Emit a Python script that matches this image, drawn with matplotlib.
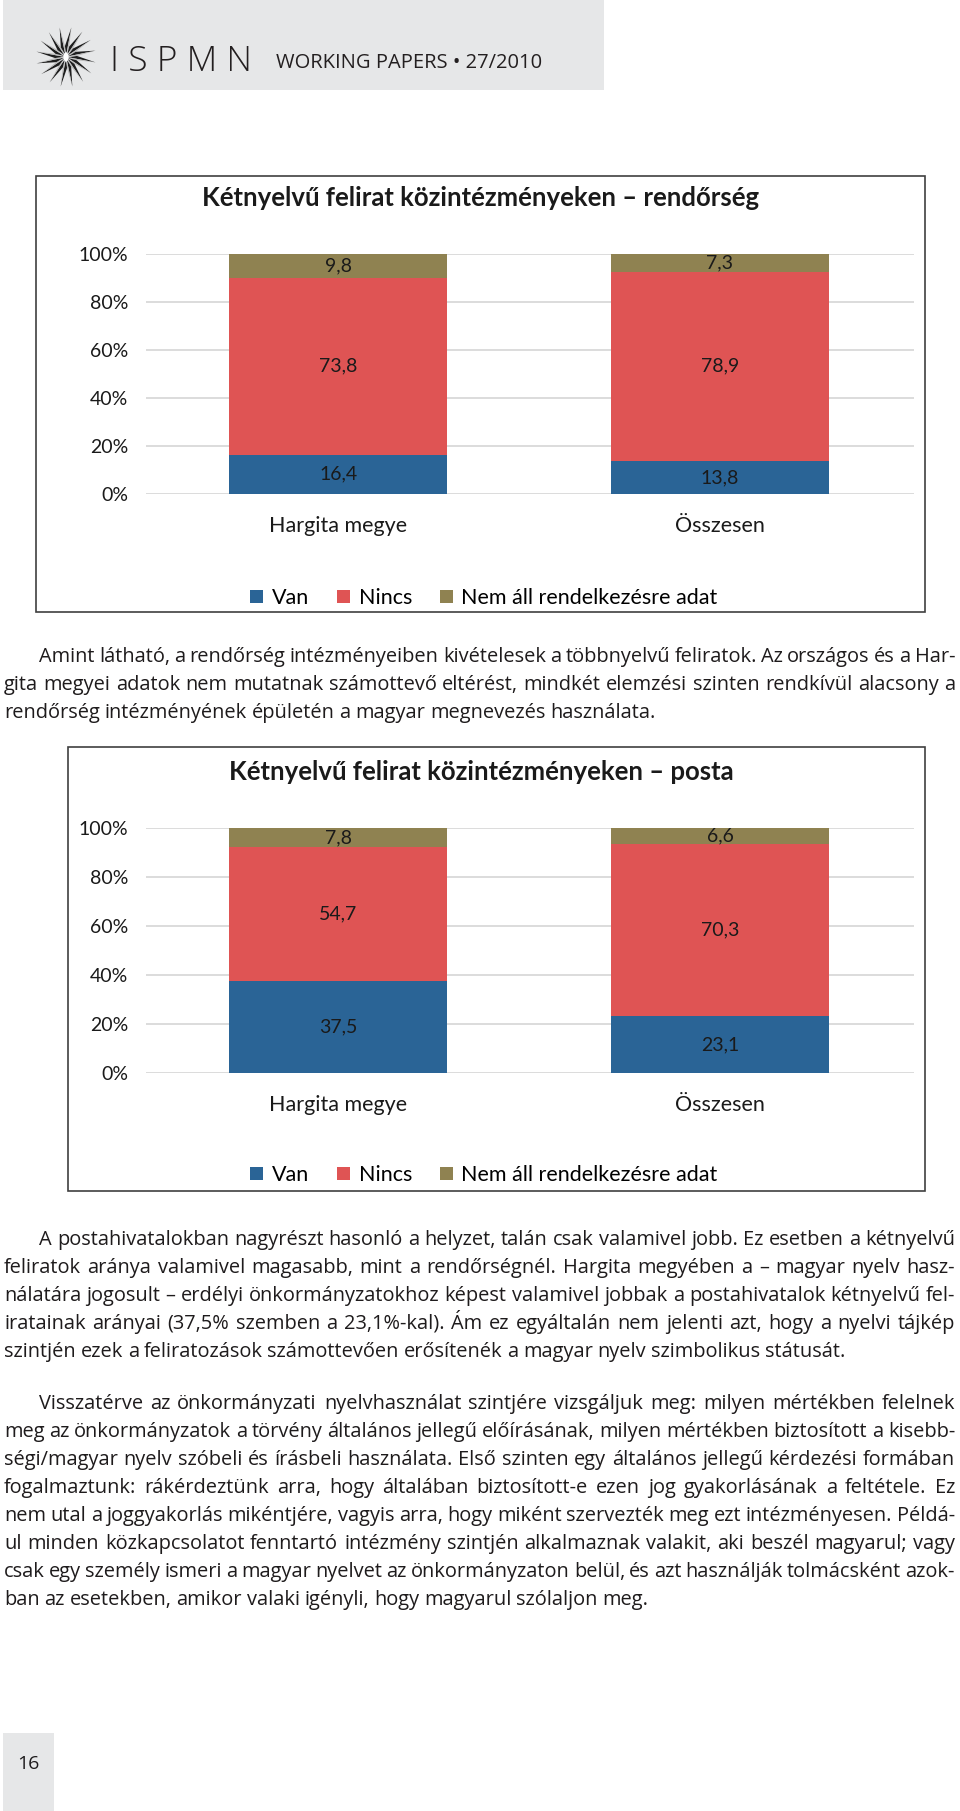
import numpy as np
import matplotlib.pyplot as plt
from matplotlib.patches import Rectangle, Polygon
from matplotlib.ticker import PercentFormatter

W, H = 960, 1811

categories = ['Hargita megye', 'Összesen']
series = ['Van', 'Nincs', 'Nem áll rendelkezésre adat']
police_van = [16.4, 13.8]
police_nincs = [73.8, 78.9]
police_no_data = [9.8, 7.3]
post_van = [37.5, 23.1]
post_nincs = [54.7, 70.3]
post_no_data = [7.8, 6.6]
y_ticks = [0, 20, 40, 60, 80, 100]

title_police = 'Kétnyelvű felirat közintézményeken – rendőrség'
title_post = 'Kétnyelvű felirat közintézményeken – posta'

par1 = [
    'Amint látható, a rendőrség intézményeiben kivételesek a többnyelvű feliratok. Az országos és a Har-',
    'gita megyei adatok nem mutatnak számottevő eltérést, mindkét elemzési szinten rendkívül alacsony a',
    'rendőrség intézményének épületén a magyar megnevezés használata.',
]
par2 = [
    'A postahivatalokban nagyrészt hasonló a helyzet, talán csak valamivel jobb. Ez esetben a kétnyelvű',
    'feliratok aránya valamivel magasabb, mint a rendőrségnél. Hargita megyében a – magyar nyelv hasz-',
    'nálatára jogosult – erdélyi önkormányzatokhoz képest valamivel jobbak a postahivatalok kétnyelvű fel-',
    'iratainak arányai (37,5% szemben a 23,1%-kal). Ám ez egyáltalán nem jelenti azt, hogy a nyelvi tájkép',
    'szintjén ezek a feliratozások számottevően erősítenék a magyar nyelv szimbolikus státusát.',
]
par3 = [
    'Visszatérve az önkormányzati nyelvhasználat szintjére vizsgáljuk meg: milyen mértékben felelnek',
    'meg az önkormányzatok a törvény általános jellegű előírásának, milyen mértékben biztosított a kisebb-',
    'ségi/magyar nyelv szóbeli és írásbeli használata. Első szinten egy általános jellegű kérdezési formában',
    'fogalmaztunk: rákérdeztünk arra, hogy általában biztosított-e ezen jog gyakorlásának a feltétele. Ez',
    'nem utal a joggyakorlás mikéntjére, vagyis arra, hogy miként szervezték meg ezt intézményesen. Példá-',
    'ul minden közkapcsolatot fenntartó intézmény szintjén alkalmaznak valakit, aki beszél magyarul; vagy',
    'csak egy személy ismeri a magyar nyelvet az önkormányzaton belül, és azt használják tolmácsként azok-',
    'ban az esetekben, amikor valaki igényli, hogy magyarul szólaljon meg.',
]

colors = ['#2A6496', '#DF5454', '#8F8251']
INK = '#1E1B1C'
CHART_FONT = 'Lato'
BODY_FONT = 'Open Sans'
HEAD_FONT = 'Open Sans'


def fx(x):
    return x / W


def fy(y):
    return 1 - y / H


fig = plt.figure(figsize=(W / 100, H / 100), dpi=100)
fig.patch.set_facecolor('white')

# header
fig.add_artist(Rectangle((fx(3), fy(90)), 601 / W, 90 / H, transform=fig.transFigure,
                         facecolor='#E6E7E8', edgecolor='none'))
cx, cy, rad = 66, 57, 30
half = np.pi / 16
for k in range(16):
    a = 2 * np.pi * k / 16 + 0.1
    tip = (cx + rad * np.cos(a + 0.08), cy + rad * np.sin(a + 0.08))
    b1 = (cx + 11 * np.cos(a - half), cy + 11 * np.sin(a - half))
    b2 = (cx + 11 * np.cos(a + half), cy + 11 * np.sin(a + half))
    mid = (cx + 2 * np.cos(a), cy + 2 * np.sin(a))
    fig.add_artist(Polygon([(fx(p[0]), fy(p[1])) for p in (mid, b1, tip)],
                           transform=fig.transFigure, facecolor='#1E1E1E', edgecolor='none'))
    fig.add_artist(Polygon([(fx(p[0]), fy(p[1])) for p in (mid, tip, b2)],
                           transform=fig.transFigure, facecolor='#B9B9B9', edgecolor='none'))
fig.add_artist(plt.Circle((fx(cx), fy(cy)), 2.5 / W, transform=fig.transFigure,
                          facecolor='white', edgecolor='none'))
fig.text(fx(110), fy(71), 'I S P M N', fontsize=25.5, family=HEAD_FONT, fontweight=300,
         color='#231F20', va='baseline')
fig.text(fx(276), fy(68), 'WORKING PAPERS • 27/2010', fontsize=14.5,
         family=HEAD_FONT, color='#231F20', va='baseline')

# footer page number
fig.add_artist(Rectangle((fx(3), 0), 51 / W, 78 / H, transform=fig.transFigure,
                         facecolor='#E6E7E8', edgecolor='none'))
fig.text(fx(28), fy(1764), '16', fontsize=14, family=HEAD_FONT,
         color=INK, ha='center', va='center')


def fmt(v):
    return f'{v:.1f}'.replace('.', ',')


def chart(frame, plot, title, title_y, legend_y, van, nincs, nodata):
    fl, ft, fr, fb = frame
    fig.add_artist(Rectangle((fx(fl), fy(fb)), (fr - fl) / W, (fb - ft) / H,
                             transform=fig.transFigure, facecolor='none',
                             edgecolor='#404040', lw=1.2))
    pl, pt, pr, pb = plot
    ax = fig.add_axes([fx(pl), fy(pb), (pr - pl) / W, (pb - pt) / H])
    x = np.arange(len(categories))
    bottom = np.zeros(len(categories))
    handles = []
    for vals, col in zip([van, nincs, nodata], colors):
        bars = ax.bar(x, vals, width=0.572, bottom=bottom, color=col, edgecolor='none')
        ax.bar_label(bars, labels=[fmt(v) for v in vals], label_type='center',
                     fontsize=14, family=CHART_FONT, color='#1A1A1A')
        bottom += np.array(vals)
        handles.append(bars)
    ax.set_xlim(-0.503, 1.508)
    ax.set_ylim(0, 100)
    ax.set_yticks(y_ticks)
    ax.yaxis.set_major_formatter(PercentFormatter(decimals=0))
    ax.set_xticks(x)
    ax.set_xticklabels(categories)
    ax.grid(axis='y', color='#D9D9D9', lw=1.3)
    ax.set_axisbelow(True)
    for s in ax.spines.values():
        s.set_visible(False)
    ax.tick_params(length=0, labelsize=14, labelcolor='#1A1A1A')
    ax.tick_params(axis='y', pad=13)
    ax.tick_params(axis='x', pad=16, labelsize=15.5)
    for lab in ax.get_xticklabels() + ax.get_yticklabels():
        lab.set_family(CHART_FONT)
    fig.text(fx(481), fy(title_y), title, fontsize=18.5, fontweight='bold',
             family=CHART_FONT, color='#1A1A1A', ha='center', va='center')
    fig.legend(handles, series, loc='center', bbox_to_anchor=(fx(484), fy(legend_y)),
               ncol=3, frameon=False, handlelength=0.6, handleheight=0.6,
               handletextpad=0.4, columnspacing=1.3,
               prop={'family': CHART_FONT, 'size': 15.5})
    return ax


chart((36, 176, 925, 612), (146, 254, 914, 494), title_police, 198, 598,
      police_van, police_nincs, police_no_data)
chart((68, 747, 925, 1191), (146, 828, 914, 1073), title_post, 772, 1175,
      post_van, post_nincs, post_no_data)

# justified body text, word by word
LEFT, RIGHT, INDENT = 4, 955, 35
BODY_WEIGHT = 'medium'
renderer = fig.canvas.get_renderer()


def measure(word, size):
    t = fig.text(0, 0, word, fontsize=size, family=BODY_FONT, fontweight=BODY_WEIGHT)
    w = t.get_window_extent(renderer).width
    t.remove()
    return w


base = 10
ratios = []
for para in (par1, par2, par3):
    for i, line in enumerate(para[:-1]):
        words = line.split()
        nat = sum(measure(w, base) for w in words) + (len(words) - 1) * 0.18 * base * 100 / 72
        avail = RIGHT - LEFT - (INDENT if i == 0 else 0)
        ratios.append(avail / nat)
body_size = round(base * min(ratios) * 0.995, 2)


def paragraph(lines, first_baseline, step):
    for i, line in enumerate(lines):
        y = first_baseline + i * step
        x0 = LEFT + (INDENT if i == 0 else 0)
        words = line.split()
        widths = [measure(w, body_size) for w in words]
        if i == len(lines) - 1:
            gap = 0.24 * body_size * 100 / 72
        else:
            gap = (RIGHT - x0 - sum(widths)) / (len(words) - 1)
        xpos = x0
        for w, wd in zip(words, widths):
            fig.text(fx(xpos), fy(y), w, fontsize=body_size, family=BODY_FONT,
                     fontweight=BODY_WEIGHT, color=INK, va='baseline')
            xpos += wd + gap


STEP = 28
paragraph(par1, 662, STEP)
paragraph(par2, 1245, STEP)
paragraph(par3, 1245 + 4 * STEP + 1.85 * STEP, STEP)

fig.savefig('out.png', dpi=100)
